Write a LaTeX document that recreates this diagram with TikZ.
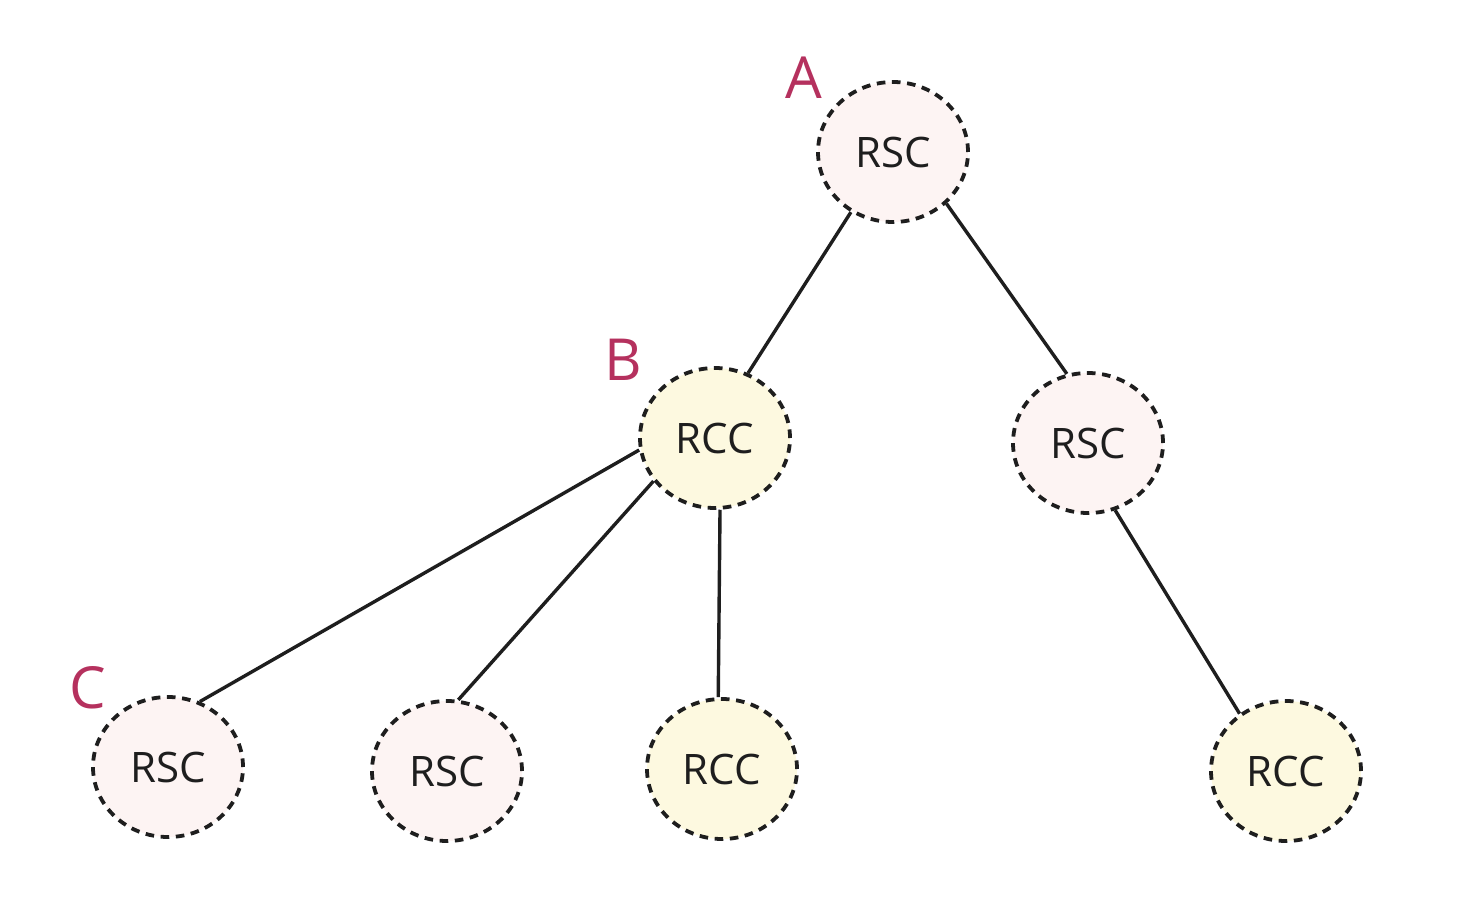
\documentclass[tikz,border=0pt]{standalone}
\usepackage{fontspec}
\setmainfont{Open Sans}
\usetikzlibrary{shapes.geometric}
\definecolor{inkline}{HTML}{1E1E1E}
\definecolor{pinkfill}{HTML}{FDF4F3}
\definecolor{creamfill}{HTML}{FDF9E0}
\definecolor{tagred}{HTML}{B5315E}
\tikzset{
	circ/.style={ellipse, draw=inkline, line width=1.9pt, dash pattern=on 4.3pt off 3.3pt,
		minimum width=75pt, minimum height=70pt, inner sep=0pt,
		font=\fontsize{21}{24}\selectfont, text=inkline},
	rsc/.style={circ, fill=pinkfill},
	rcc/.style={circ, fill=creamfill},
	tag/.style={text=tagred, font=\fontsize{29}{32}\selectfont},
	link/.style={line width=1.7pt, draw=inkline}
}

\begin{document}
\begin{tikzpicture}[x=0.5pt, y=-0.5pt]
		%%%%% START %%%%%
		\useasboundingbox (0, 0) rectangle (1466, 910);
		
		\node[rsc] (top) at (893, 152) {RSC};
		\node[rcc] (mid) at (715, 438) {RCC};
		\node[rsc] (right) at (1088, 443) {RSC};
		
		\node[rsc] (leafa) at (168, 767) {RSC};
		\node[rsc] (leafb) at (447, 771) {RSC};
		\node[rcc] (leafc) at (722, 769) {RCC};
		\node[rcc] (leafd) at (1286, 771) {RCC};
		
		\node[tag] (taga) at (804, 78) {A};
		\node[tag] (tagb) at (623, 360) {B};
		\node[tag] (tagc) at (88, 688) {C};
		
		\draw[link] (top.235) -- (mid.63);
		\draw[link] (top.316) -- (right.107);
		\draw[link] (mid.189) -- (leafa.64);
		\draw[link] (mid.215) -- (leafb.81);
		\draw[link] (mid.274) -- (leafc.93);
		\draw[link] (right.292) -- (leafd.129);
		
		%%%%% END %%%%%
	\end{tikzpicture}
\end{document}
